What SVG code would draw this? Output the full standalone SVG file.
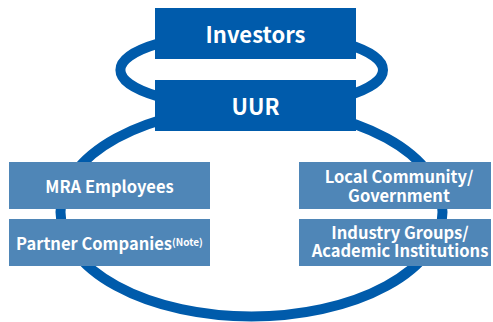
<svg xmlns="http://www.w3.org/2000/svg" width="493" height="322" viewBox="0 0 493 322">
  <style>
    .ring { fill: none; stroke: #005bab; stroke-width: 10; }
    .dark { fill: #005bab; }
    .light { fill: #4f86b7; }
    text { font-family: "Noto Sans CJK JP", "Noto Sans", sans-serif; font-weight: bold; fill: #ffffff; text-anchor: middle; }
    .big { font-size: 22px; }
    .mid { font-size: 16.5px; }
    .note { font-size: 10px; }
  </style>
  <rect width="493" height="322" fill="#ffffff"/>
  <g id="connectors">
    <ellipse class="ring" cx="251.7" cy="70" rx="131.3" ry="37.7"/>
    <ellipse class="ring" cx="251.5" cy="212" rx="191" ry="104.5"/>
  </g>
  <g id="investors">
    <rect class="dark" x="155" y="8" width="201" height="51"/>
    <text class="big" x="255.5" y="43">Investors</text>
  </g>
  <g id="uur">
    <rect class="dark" x="155" y="80" width="201" height="51"/>
    <text class="big" x="255.5" y="115">UUR</text>
  </g>
  <g id="mra-employees">
    <rect class="light" x="9" y="162" width="201" height="47"/>
    <text class="mid" x="109.5" y="193">MRA Employees</text>
  </g>
  <g id="partner-companies">
    <rect class="light" x="9" y="219" width="201" height="47"/>
    <text class="mid" x="109.5" y="250">Partner Companies<tspan class="note" dy="-4">(Note)</tspan></text>
  </g>
  <g id="local-community">
    <rect class="light" x="299" y="162" width="192" height="47"/>
    <text class="mid" y="183"><tspan x="399">Local Community/</tspan><tspan x="399" dy="19">Government</tspan></text>
  </g>
  <g id="industry-groups">
    <rect class="light" x="299" y="219" width="192" height="47"/>
    <text class="mid" y="239"><tspan x="400">Industry Groups/</tspan><tspan x="400" dy="18">Academic Institutions</tspan></text>
  </g>
</svg>
